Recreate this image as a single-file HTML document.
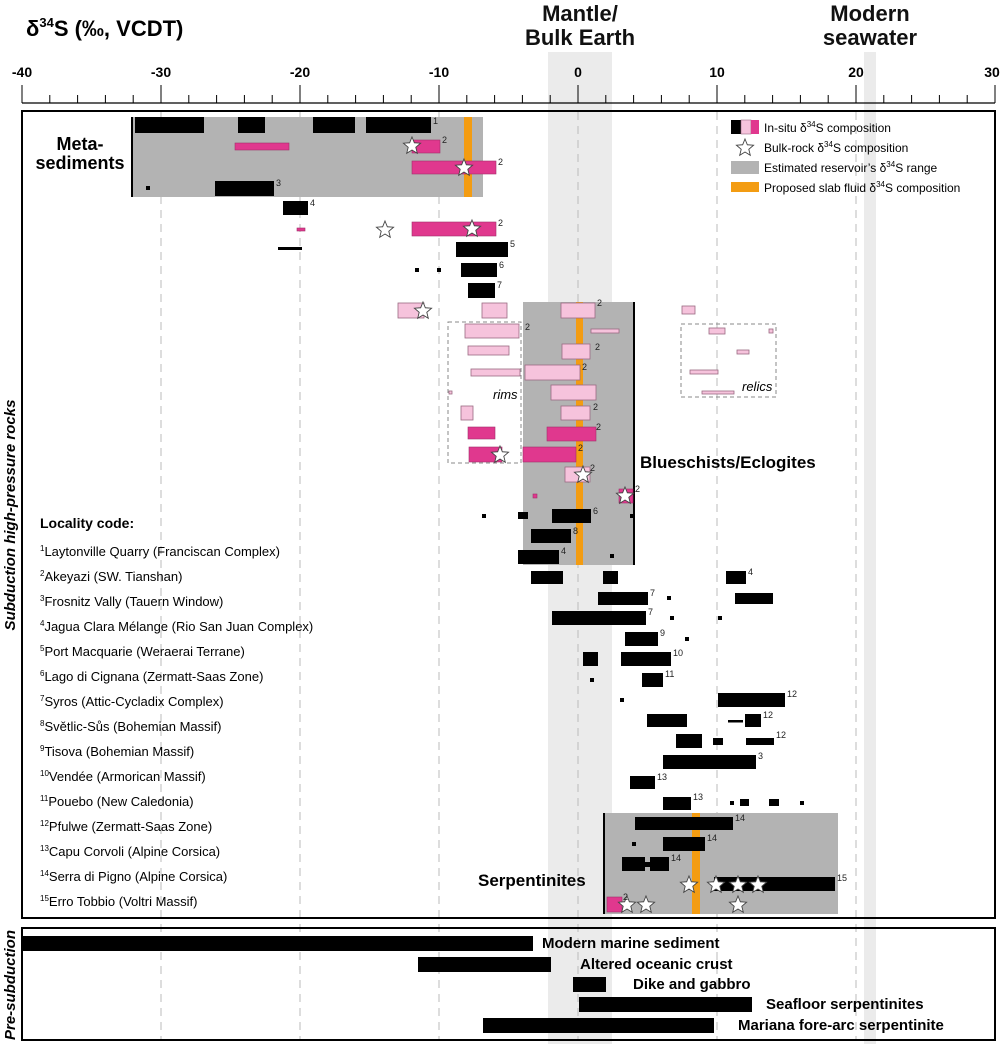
<!DOCTYPE html>
<html><head><meta charset="utf-8"><style>
html,body{margin:0;padding:0;background:#fff}
svg{display:block;font-family:"Liberation Sans",Arial,sans-serif}
</style></head><body>
<svg width="1000" height="1044" viewBox="0 0 1000 1044" xmlns="http://www.w3.org/2000/svg">
<defs>
<polygon id="st" points="0,-9 2.35,-3.24 8.56,-2.78 3.8,1.24 5.29,7.28 0,4 -5.29,7.28 -3.8,1.24 -8.56,-2.78 -2.35,-3.24" fill="#fff" stroke="#444" stroke-width="0.9"/>
</defs>
<!-- bands -->
<rect x="548" y="52" width="64" height="992" fill="#ebebeb"/>
<rect x="864" y="52" width="12" height="992" fill="#ebebeb"/>
<!-- header -->
<text x="26" y="36" font-size="22" font-weight="bold">δ<tspan font-size="13" dy="-9">34</tspan><tspan dy="9">S (‰, VCDT)</tspan></text>
<text x="580" y="21" font-size="22" font-weight="bold" fill="#111" text-anchor="middle">Mantle/</text>
<text x="580" y="45" font-size="22" font-weight="bold" fill="#111" text-anchor="middle">Bulk Earth</text>
<text x="870" y="21" font-size="22" font-weight="bold" fill="#111" text-anchor="middle">Modern</text>
<text x="870" y="45" font-size="22" font-weight="bold" fill="#111" text-anchor="middle">seawater</text>
<g font-size="14" font-weight="bold" text-anchor="middle">
<text x="22" y="77">-40</text><text x="161" y="77">-30</text><text x="300" y="77">-20</text><text x="439" y="77">-10</text><text x="578" y="77">0</text><text x="717" y="77">10</text><text x="856" y="77">20</text><text x="992" y="77">30</text>
</g>
<line x1="22" y1="103" x2="995" y2="103" stroke="#000" stroke-width="1.2"/>
<g stroke="#000" stroke-width="1">
<line x1="22" y1="85" x2="22" y2="103"/><line x1="49.8" y1="95" x2="49.8" y2="103"/><line x1="77.6" y1="95" x2="77.6" y2="103"/><line x1="105.4" y1="95" x2="105.4" y2="103"/><line x1="133.2" y1="95" x2="133.2" y2="103"/><line x1="161" y1="85" x2="161" y2="103"/><line x1="188.8" y1="95" x2="188.8" y2="103"/><line x1="216.6" y1="95" x2="216.6" y2="103"/><line x1="244.4" y1="95" x2="244.4" y2="103"/><line x1="272.2" y1="95" x2="272.2" y2="103"/><line x1="300" y1="85" x2="300" y2="103"/><line x1="327.8" y1="95" x2="327.8" y2="103"/><line x1="355.6" y1="95" x2="355.6" y2="103"/><line x1="383.4" y1="95" x2="383.4" y2="103"/><line x1="411.2" y1="95" x2="411.2" y2="103"/><line x1="439" y1="85" x2="439" y2="103"/><line x1="466.8" y1="95" x2="466.8" y2="103"/><line x1="494.6" y1="95" x2="494.6" y2="103"/><line x1="522.4" y1="95" x2="522.4" y2="103"/><line x1="550.2" y1="95" x2="550.2" y2="103"/><line x1="578" y1="85" x2="578" y2="103"/><line x1="605.8" y1="95" x2="605.8" y2="103"/><line x1="633.6" y1="95" x2="633.6" y2="103"/><line x1="661.4" y1="95" x2="661.4" y2="103"/><line x1="689.2" y1="95" x2="689.2" y2="103"/><line x1="717" y1="85" x2="717" y2="103"/><line x1="744.8" y1="95" x2="744.8" y2="103"/><line x1="772.6" y1="95" x2="772.6" y2="103"/><line x1="800.4" y1="95" x2="800.4" y2="103"/><line x1="828.2" y1="95" x2="828.2" y2="103"/><line x1="856" y1="85" x2="856" y2="103"/><line x1="883.8" y1="95" x2="883.8" y2="103"/><line x1="911.6" y1="95" x2="911.6" y2="103"/><line x1="939.4" y1="95" x2="939.4" y2="103"/><line x1="967.2" y1="95" x2="967.2" y2="103"/><line x1="995" y1="85" x2="995" y2="103"/>
</g>
<!-- dashed grid -->
<g stroke="#bbb" stroke-width="1" stroke-dasharray="8,6">
<line x1="161" y1="112" x2="161" y2="1040"/><line x1="300" y1="112" x2="300" y2="1040"/><line x1="439" y1="112" x2="439" y2="1040"/><line x1="578" y1="112" x2="578" y2="1040"/><line x1="717" y1="112" x2="717" y2="1040"/><line x1="856" y1="112" x2="856" y2="1040"/>
</g>
<!-- reservoir boxes -->
<rect x="132" y="117" width="351" height="80" fill="#b3b3b3"/>
<line x1="132" y1="117" x2="132" y2="197" stroke="#000" stroke-width="2"/>
<rect x="464" y="117" width="8" height="80" fill="#f39c12"/>
<rect x="523" y="302" width="111" height="263" fill="#b3b3b3"/>
<line x1="634" y1="302" x2="634" y2="565" stroke="#000" stroke-width="2"/>
<rect x="576" y="302" width="7" height="263" fill="#f39c12"/>
<rect x="604" y="813" width="234" height="101" fill="#b3b3b3"/>
<line x1="604" y1="813" x2="604" y2="914" stroke="#000" stroke-width="2"/>
<rect x="692" y="813" width="8" height="101" fill="#f39c12"/>
<!-- dashed boxes -->
<rect x="448" y="322" width="73" height="141" fill="none" stroke="#888" stroke-dasharray="4,3"/>
<rect x="681" y="324" width="95" height="73" fill="none" stroke="#888" stroke-dasharray="4,3"/>
<!-- black bars -->
<g fill="#000">
<rect x="135" y="117" width="69" height="16"/><rect x="238" y="117" width="27" height="16"/><rect x="313" y="117" width="42" height="16"/><rect x="366" y="117" width="65" height="16"/>
<rect x="146" y="186" width="4" height="4"/><rect x="215" y="181" width="59" height="15"/>
<rect x="283" y="201" width="25" height="14"/>
<rect x="278" y="247" width="24" height="3"/>
<rect x="456" y="242" width="52" height="15"/>
<rect x="415" y="268" width="4" height="4"/><rect x="437" y="268" width="4" height="4"/><rect x="461" y="263" width="36" height="14"/>
<rect x="468" y="283" width="27" height="15"/>
<rect x="482" y="514" width="4" height="4"/><rect x="518" y="512" width="10" height="7"/><rect x="552" y="509" width="39" height="14"/><rect x="630" y="514" width="3" height="4"/>
<rect x="531" y="529" width="40" height="14"/>
<rect x="518" y="550" width="41" height="14"/><rect x="610" y="554" width="4" height="4"/>
<rect x="531" y="571" width="32" height="13"/><rect x="603" y="571" width="15" height="13"/><rect x="726" y="571" width="20" height="13"/>
<rect x="598" y="592" width="50" height="13"/><rect x="667" y="596" width="4" height="4"/><rect x="735" y="593" width="38" height="11"/>
<rect x="552" y="611" width="94" height="14"/><rect x="670" y="616" width="4" height="4"/><rect x="718" y="616" width="4" height="4"/>
<rect x="625" y="632" width="33" height="14"/><rect x="685" y="637" width="4" height="4"/>
<rect x="583" y="652" width="15" height="14"/><rect x="621" y="652" width="50" height="14"/>
<rect x="590" y="678" width="4" height="4"/><rect x="642" y="673" width="21" height="14"/>
<rect x="620" y="698" width="4" height="4"/><rect x="718" y="693" width="67" height="14"/>
<rect x="647" y="714" width="40" height="13"/><rect x="728" y="720" width="15" height="2.5"/><rect x="745" y="714" width="16" height="13"/>
<rect x="676" y="734" width="26" height="14"/><rect x="713" y="738" width="10" height="7"/><rect x="746" y="738" width="28" height="7"/>
<rect x="663" y="755" width="93" height="14"/>
<rect x="630" y="776" width="25" height="13"/>
<rect x="663" y="797" width="28" height="13"/><rect x="730" y="801" width="4" height="4"/><rect x="740" y="799" width="9" height="7"/><rect x="769" y="799" width="10" height="7"/><rect x="800" y="801" width="4" height="4"/>
<rect x="635" y="817" width="98" height="13"/>
<rect x="632" y="842" width="4" height="4"/><rect x="663" y="837" width="42" height="14"/>
<rect x="622" y="857" width="23" height="14"/><rect x="645" y="862" width="5" height="5"/><rect x="650" y="857" width="19" height="14"/>
<rect x="714" y="877" width="121" height="14"/>
</g>
<!-- pink bars -->
<g fill="#e0388e" stroke="#a0306a" stroke-width="0.6">
<rect x="235" y="143" width="54" height="7"/><rect x="412" y="140" width="28" height="13"/><rect x="412" y="161" width="84" height="13"/>
<rect x="297" y="228" width="8" height="3"/><rect x="412" y="222" width="84" height="14"/>
<rect x="468" y="427" width="27" height="12"/><rect x="547" y="427" width="49" height="14"/>
<rect x="469" y="447" width="33" height="15"/><rect x="523" y="447" width="53" height="15"/>
<rect x="533" y="494" width="4" height="4"/><rect x="619" y="489" width="14" height="14"/>
<rect x="607" y="897" width="15" height="15"/>
</g>
<g fill="#f6c3dc" stroke="#9a6a82" stroke-width="0.8">
<rect x="398" y="303" width="26" height="15"/><rect x="482" y="303" width="25" height="15"/>
<rect x="561" y="303" width="34" height="15"/><rect x="682" y="306" width="13" height="8"/>
<rect x="465" y="324" width="54" height="14"/><rect x="591" y="329" width="28" height="4"/>
<rect x="709" y="328" width="16" height="6"/><rect x="769" y="329" width="4" height="4"/>
<rect x="468" y="346" width="41" height="9"/><rect x="562" y="344" width="28" height="15"/><rect x="737" y="350" width="12" height="4"/>
<rect x="471" y="369" width="49" height="7"/><rect x="525" y="365" width="55" height="15"/><rect x="690" y="370" width="28" height="4"/>
<rect x="551" y="385" width="45" height="15"/><rect x="449" y="391" width="3" height="3"/><rect x="702" y="391" width="32" height="3"/>
<rect x="461" y="406" width="12" height="14"/><rect x="561" y="406" width="29" height="14"/>
<rect x="565" y="467" width="25" height="15"/>
</g>
<!-- stars -->
<use href="#st" x="412" y="146"/><use href="#st" x="464" y="168"/><use href="#st" x="385" y="230"/><use href="#st" x="472" y="229"/>
<use href="#st" x="423" y="311"/><use href="#st" x="500" y="455"/><use href="#st" x="583" y="475"/><use href="#st" x="625" y="496"/>
<use href="#st" x="689" y="885"/><use href="#st" x="716" y="885"/><use href="#st" x="738" y="885"/><use href="#st" x="758" y="885"/>
<use href="#st" x="627" y="905"/><use href="#st" x="646" y="905"/><use href="#st" x="738" y="905"/>
<!-- superscript numbers -->
<g font-size="9" fill="#222">
<text x="433" y="124">1</text><text x="442" y="143">2</text><text x="498" y="165">2</text><text x="276" y="186">3</text><text x="310" y="206">4</text><text x="498" y="226">2</text><text x="510" y="247">5</text><text x="499" y="268">6</text><text x="497" y="288">7</text>
<text x="597" y="306">2</text><text x="525" y="330">2</text><text x="595" y="350">2</text><text x="582" y="370">2</text><text x="593" y="410">2</text><text x="596" y="430">2</text><text x="578" y="451">2</text><text x="590" y="471">2</text><text x="635" y="492">2</text>
<text x="593" y="514">6</text><text x="573" y="534">8</text><text x="561" y="554">4</text><text x="748" y="575">4</text><text x="650" y="596">7</text><text x="648" y="615">7</text><text x="660" y="636">9</text><text x="673" y="656">10</text><text x="665" y="677">11</text>
<text x="787" y="697">12</text><text x="763" y="718">12</text><text x="776" y="738">12</text><text x="758" y="759">3</text><text x="657" y="780">13</text><text x="693" y="800">13</text>
<text x="735" y="821">14</text><text x="707" y="841">14</text><text x="671" y="861">14</text><text x="837" y="881">15</text><text x="623" y="900">2</text>
</g>
<!-- group labels -->
<text x="80" y="150" font-size="18" font-weight="bold" text-anchor="middle">Meta-</text>
<text x="80" y="169" font-size="18" font-weight="bold" text-anchor="middle">sediments</text>
<text x="640" y="468" font-size="17" font-weight="bold">Blueschists/Eclogites</text>
<text x="478" y="886" font-size="17" font-weight="bold">Serpentinites</text>
<text x="493" y="399" font-size="13" font-style="italic">rims</text>
<text x="742" y="391" font-size="13" font-style="italic">relics</text>
<!-- legend -->
<rect x="731" y="120" width="10" height="14" fill="#000"/><rect x="741" y="120" width="10" height="14" fill="#f6c3dc" stroke="#9a6a82" stroke-width="0.6"/><rect x="751" y="120" width="8" height="14" fill="#e0388e"/>
<use href="#st" x="745" y="148"/>
<rect x="731" y="161" width="28" height="13" fill="#b3b3b3"/>
<rect x="731" y="182" width="28" height="10" fill="#f39c12"/>
<g font-size="12">
<text x="764" y="132">In-situ δ<tspan font-size="8" dy="-5">34</tspan><tspan dy="5">S composition</tspan></text>
<text x="764" y="152">Bulk-rock δ<tspan font-size="8" dy="-5">34</tspan><tspan dy="5">S composition</tspan></text>
<text x="764" y="172">Estimated reservoir’s δ<tspan font-size="8" dy="-5">34</tspan><tspan dy="5">S range</tspan></text>
<text x="764" y="192">Proposed slab fluid δ<tspan font-size="8" dy="-5">34</tspan><tspan dy="5">S composition</tspan></text>
</g>
<!-- locality list -->
<text x="40" y="528" font-size="14" font-weight="bold">Locality code:</text>
<g font-size="13">
<text x="40" y="556"><tspan font-size="8" dy="-5">1</tspan><tspan dy="5">Laytonville Quarry (Franciscan Complex)</tspan></text>
<text x="40" y="581"><tspan font-size="8" dy="-5">2</tspan><tspan dy="5">Akeyazi (SW. Tianshan)</tspan></text>
<text x="40" y="606"><tspan font-size="8" dy="-5">3</tspan><tspan dy="5">Frosnitz Vally (Tauern Window)</tspan></text>
<text x="40" y="631"><tspan font-size="8" dy="-5">4</tspan><tspan dy="5">Jagua Clara Mélange (Rio San Juan Complex)</tspan></text>
<text x="40" y="656"><tspan font-size="8" dy="-5">5</tspan><tspan dy="5">Port Macquarie (Weraerai Terrane)</tspan></text>
<text x="40" y="681"><tspan font-size="8" dy="-5">6</tspan><tspan dy="5">Lago di Cignana (Zermatt-Saas Zone)</tspan></text>
<text x="40" y="706"><tspan font-size="8" dy="-5">7</tspan><tspan dy="5">Syros (Attic-Cycladix Complex)</tspan></text>
<text x="40" y="731"><tspan font-size="8" dy="-5">8</tspan><tspan dy="5">Světlic-Sůs (Bohemian Massif)</tspan></text>
<text x="40" y="756"><tspan font-size="8" dy="-5">9</tspan><tspan dy="5">Tisova (Bohemian Massif)</tspan></text>
<text x="40" y="781"><tspan font-size="8" dy="-5">10</tspan><tspan dy="5">Vendée (Armorican Massif)</tspan></text>
<text x="40" y="806"><tspan font-size="8" dy="-5">11</tspan><tspan dy="5">Pouebo (New Caledonia)</tspan></text>
<text x="40" y="831"><tspan font-size="8" dy="-5">12</tspan><tspan dy="5">Pfulwe (Zermatt-Saas Zone)</tspan></text>
<text x="40" y="856"><tspan font-size="8" dy="-5">13</tspan><tspan dy="5">Capu Corvoli (Alpine Corsica)</tspan></text>
<text x="40" y="881"><tspan font-size="8" dy="-5">14</tspan><tspan dy="5">Serra di Pigno (Alpine Corsica)</tspan></text>
<text x="40" y="906"><tspan font-size="8" dy="-5">15</tspan><tspan dy="5">Erro Tobbio (Voltri Massif)</tspan></text>
</g>
<!-- panels -->
<rect x="22" y="111" width="973" height="807" fill="none" stroke="#000" stroke-width="2"/>
<rect x="22" y="928" width="973" height="112" fill="none" stroke="#000" stroke-width="2"/>
<text transform="translate(15,515) rotate(-90)" font-size="15" font-weight="bold" font-style="italic" text-anchor="middle">Subduction high-pressure rocks</text>
<text transform="translate(15,985) rotate(-90)" font-size="15" font-weight="bold" font-style="italic" text-anchor="middle">Pre-subduction</text>
<!-- lower panel -->
<g fill="#000">
<rect x="22" y="936" width="511" height="15"/><rect x="418" y="957" width="133" height="15"/><rect x="573" y="977" width="33" height="15"/><rect x="579" y="997" width="173" height="15"/><rect x="483" y="1018" width="231" height="15"/>
</g>
<g font-size="15" font-weight="bold">
<text x="542" y="948">Modern marine sediment</text>
<text x="580" y="969">Altered oceanic crust</text>
<text x="633" y="989">Dike and gabbro</text>
<text x="766" y="1009">Seafloor serpentinites</text>
<text x="738" y="1030">Mariana fore-arc serpentinite</text>
</g>
</svg>
</body></html>
